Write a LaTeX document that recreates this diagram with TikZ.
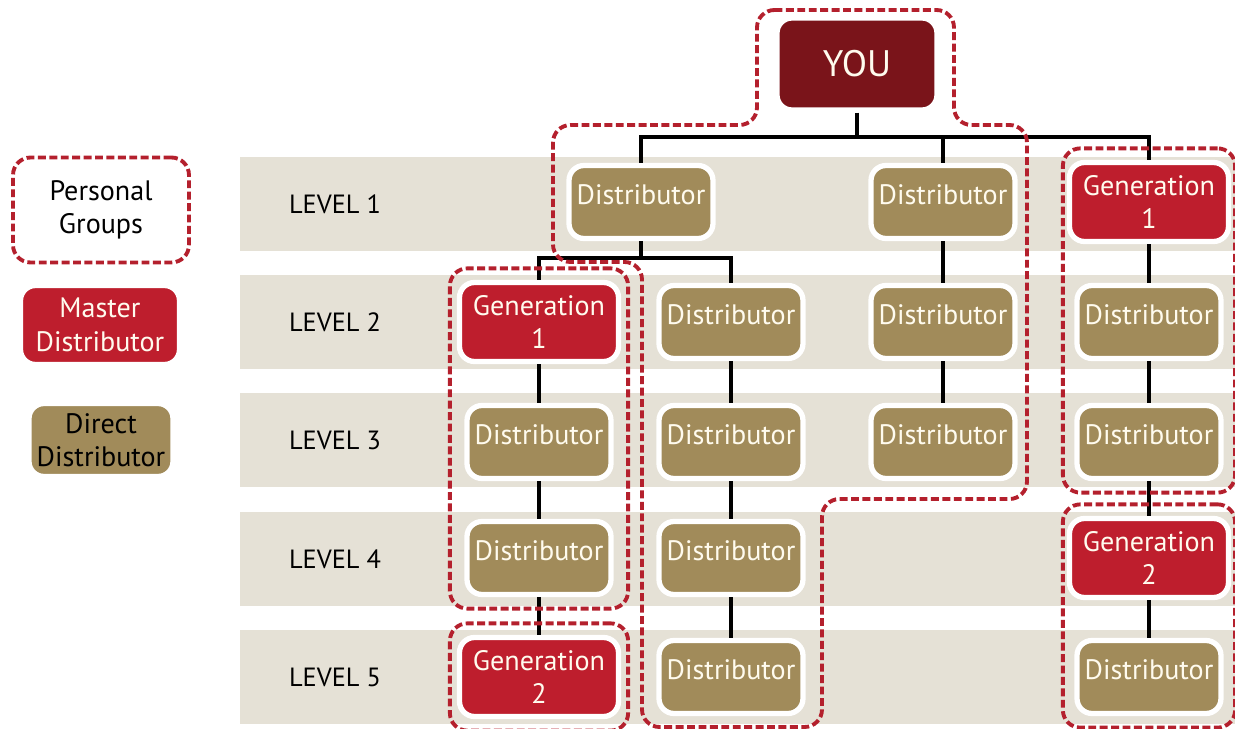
\documentclass[tikz,border=0pt]{standalone}
\usepackage{fontspec}
\setmainfont{PT Sans}
\usetikzlibrary{fit}

\definecolor{bandgray}{RGB}{229,225,214}
\definecolor{boxbrown}{RGB}{161,139,90}
\definecolor{boxred}{RGB}{190,30,45}
\definecolor{youred}{RGB}{122,20,26}
\definecolor{groupred}{RGB}{180,32,45}
\definecolor{boxtext}{RGB}{255,251,238}

\begin{document}
\begin{tikzpicture}[x=0.02cm, y=-0.02cm]
			\tikzstyle{dist}  = [rectangle, rounded corners=0.3cm, minimum width=2.88cm, minimum height=1.46cm, inner sep=0pt, draw=white, line width=3pt, fill=boxbrown, text=boxtext, font=\fontsize{16}{19}\selectfont, align=center]
			\tikzstyle{gen}   = [dist, minimum width=3.18cm, minimum height=1.58cm, fill=boxred]
			\tikzstyle{group} = [rectangle, rounded corners=0.35cm, draw=groupred, line width=2.2pt, dash pattern=on 4.5pt off 2pt, inner ysep=0.23cm]
			\tikzstyle{level} = [font=\fontsize{15}{19}\selectfont, text=black]
			\tikzstyle{link}  = [line width=2.2pt, black]

			\useasboundingbox (0,0) rectangle (1235,729);
%			\draw[step=1cm, gray!50] (0,0) grid (1235,729);

			\foreach \n/\y in {1/204, 2/322, 3/440, 4/559, 5/677} {
				\fill[bandgray] (240,\y-47) rectangle (1235,\y+47);
				\node[level] (l\n) at (335,\y) {LEVEL \n};
			}

			\node[dist, minimum width=3.2cm, minimum height=1.84cm, fill=youred, font=\fontsize{21}{25}\selectfont] (you) at (857,64) {YOU};

			\foreach \name/\x/\y in {b1/641/202, d1/943/202, c2/731/322, d2/943/322, e2/1149/322, a3/539/442, c3/731/442, d3/943/442, e3/1149/442, a4/539/558, c4/731/558, c5/731/677, e5/1149/677}
				\node[dist, text depth=8pt] (\name) at (\x, \y) {Distributor};

			\foreach \name/\x/\y/\g in {a2/539/322/1, e1/1149/202/1, e4/1149/558/2, a5/539/677/2}
				\node[gen] (\name) at (\x, \y) {Generation\\\g};

			\coordinate (bus1) at (857,137);
			\coordinate (bus2) at (641,258);
			\draw[link] (you) -- (bus1);
			\foreach \to in {b1, d1, e1}
				\draw[link] (bus1) -| (\to);
			\draw[link] (b1) -- (bus2);
			\foreach \to in {a2, c2}
				\draw[link] (bus2) -| (\to);
			\foreach \from/\to in {a2/a3, a3/a4, a4/a5, c2/c3, c3/c4, c4/c5, d1/d2, d2/d3, e1/e2, e2/e3, e3/e4, e4/e5}
				\path[link] (\from) edge (\to);

			\node[group, inner xsep=0.14cm, fit=(a2)(a4)] (grpa1) {};
			\node[group, inner xsep=0.14cm, fit=(a5)] (grpa2) {};
			\node[group, inner xsep=0.08cm, fit=(e1)(e3)] (grpe1) {};
			\node[group, inner xsep=0.08cm, fit=(e4)(e5)] (grpe2) {};
			\draw[group] (757,10) -- (954,10) -- (954,125) -- (1027,125) -- (1027,499) -- (822,499) -- (822,727) -- (642,727) -- (642,262) -- (553,262) -- (553,125) -- (757,125) -- cycle;

			\node[group, minimum width=3.52cm, minimum height=2.1cm, inner sep=0pt, align=center, font=\fontsize{16}{19}\selectfont] (pgroups) at (101,210) {Personal\\Groups};
			\node[gen] (master) at (100,325) {Master\\Distributor};
			\node[dist, text=black] (direct) at (101,440) {Direct\\Distributor};
		\end{tikzpicture}
\end{document}
